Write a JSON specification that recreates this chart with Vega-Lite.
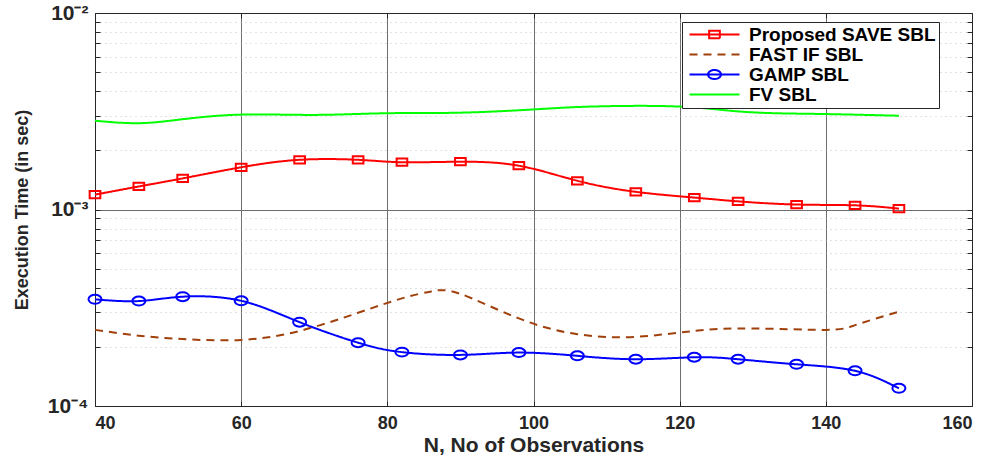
{
  "$schema": "https://vega.github.io/schema/vega-lite/v6.json",
  "width": 877,
  "height": 393,
  "autosize": {"type": "none"},
  "padding": {"left": 95, "top": 13, "right": 20, "bottom": 53},
  "background": "white",
  "config": {
    "view": {"stroke": null},
    "font": "Liberation Sans",
    "axis": {
      "labelFont": "Liberation Sans",
      "labelFontWeight": "bold",
      "labelColor": "#262626",
      "titleFont": "Liberation Sans",
      "titleFontWeight": "bold",
      "titleColor": "#262626",
      "domainColor": "#262626",
      "tickColor": "#262626",
      "domainWidth": 1,
      "tickWidth": 1
    },
    "legend": {
      "symbolSize": 100,
      "symbolStrokeWidth": 2,
      "labelFont": "Liberation Sans",
      "labelFontWeight": "bold",
      "labelFontSize": 19,
      "labelColor": "#000000",
      "labelOffset": 45,
      "padding": 3,
      "rowPadding": -0.7,
      "strokeColor": "#262626",
      "fillColor": "#ffffff",
      "symbolFillColor": "transparent",
      "labelLimit": 500
    }
  },
  "data": {
    "values": [
      {"series": "Proposed SAVE SBL", "N": 40, "t": 0.00119},
      {"series": "Proposed SAVE SBL", "N": 46, "t": 0.00131},
      {"series": "Proposed SAVE SBL", "N": 52, "t": 0.00144},
      {"series": "Proposed SAVE SBL", "N": 60, "t": 0.00164},
      {"series": "Proposed SAVE SBL", "N": 68, "t": 0.00179},
      {"series": "Proposed SAVE SBL", "N": 76, "t": 0.00179},
      {"series": "Proposed SAVE SBL", "N": 82, "t": 0.00174},
      {"series": "Proposed SAVE SBL", "N": 90, "t": 0.00175},
      {"series": "Proposed SAVE SBL", "N": 98, "t": 0.00167},
      {"series": "Proposed SAVE SBL", "N": 106, "t": 0.00140},
      {"series": "Proposed SAVE SBL", "N": 114, "t": 0.00123},
      {"series": "Proposed SAVE SBL", "N": 122, "t": 0.00115},
      {"series": "Proposed SAVE SBL", "N": 128, "t": 0.00110},
      {"series": "Proposed SAVE SBL", "N": 136, "t": 0.00106},
      {"series": "Proposed SAVE SBL", "N": 144, "t": 0.00105},
      {"series": "Proposed SAVE SBL", "N": 150, "t": 0.00101},
      {"series": "FAST IF SBL", "N": 40, "t": 0.000244},
      {"series": "FAST IF SBL", "N": 46, "t": 0.000228},
      {"series": "FAST IF SBL", "N": 52, "t": 0.000219},
      {"series": "FAST IF SBL", "N": 60, "t": 0.000217},
      {"series": "FAST IF SBL", "N": 68, "t": 0.000241},
      {"series": "FAST IF SBL", "N": 76, "t": 0.000298},
      {"series": "FAST IF SBL", "N": 82, "t": 0.000353},
      {"series": "FAST IF SBL", "N": 86, "t": 0.000383},
      {"series": "FAST IF SBL", "N": 90, "t": 0.000372},
      {"series": "FAST IF SBL", "N": 98, "t": 0.000279},
      {"series": "FAST IF SBL", "N": 106, "t": 0.000232},
      {"series": "FAST IF SBL", "N": 114, "t": 0.000225},
      {"series": "FAST IF SBL", "N": 122, "t": 0.000241},
      {"series": "FAST IF SBL", "N": 130, "t": 0.000248},
      {"series": "FAST IF SBL", "N": 140, "t": 0.000244},
      {"series": "FAST IF SBL", "N": 144, "t": 0.000258},
      {"series": "FAST IF SBL", "N": 150, "t": 0.000302},
      {"series": "GAMP SBL", "N": 40, "t": 0.000349},
      {"series": "GAMP SBL", "N": 46, "t": 0.000342},
      {"series": "GAMP SBL", "N": 52, "t": 0.000360},
      {"series": "GAMP SBL", "N": 60, "t": 0.000343},
      {"series": "GAMP SBL", "N": 68, "t": 0.000267},
      {"series": "GAMP SBL", "N": 76, "t": 0.000210},
      {"series": "GAMP SBL", "N": 82, "t": 0.000188},
      {"series": "GAMP SBL", "N": 90, "t": 0.000182},
      {"series": "GAMP SBL", "N": 98, "t": 0.000187},
      {"series": "GAMP SBL", "N": 106, "t": 0.000180},
      {"series": "GAMP SBL", "N": 114, "t": 0.000173},
      {"series": "GAMP SBL", "N": 122, "t": 0.000177},
      {"series": "GAMP SBL", "N": 128, "t": 0.000173},
      {"series": "GAMP SBL", "N": 136, "t": 0.000163},
      {"series": "GAMP SBL", "N": 144, "t": 0.000151},
      {"series": "GAMP SBL", "N": 150, "t": 0.000123},
      {"series": "FV SBL", "N": 40, "t": 0.00283},
      {"series": "FV SBL", "N": 46, "t": 0.00275},
      {"series": "FV SBL", "N": 52, "t": 0.00288},
      {"series": "FV SBL", "N": 60, "t": 0.00304},
      {"series": "FV SBL", "N": 70, "t": 0.00303},
      {"series": "FV SBL", "N": 80, "t": 0.00309},
      {"series": "FV SBL", "N": 90, "t": 0.00311},
      {"series": "FV SBL", "N": 100, "t": 0.00323},
      {"series": "FV SBL", "N": 105, "t": 0.00331},
      {"series": "FV SBL", "N": 111, "t": 0.00336},
      {"series": "FV SBL", "N": 120, "t": 0.00334},
      {"series": "FV SBL", "N": 127, "t": 0.00318},
      {"series": "FV SBL", "N": 133, "t": 0.00309},
      {"series": "FV SBL", "N": 140, "t": 0.00306},
      {"series": "FV SBL", "N": 150, "t": 0.00300}
    ]
  },
  "resolve": {"axis": {"x": "independent", "y": "independent"}},
  "layer": [
    {
      "mark": {"type": "line", "interpolate": "natural", "strokeWidth": 2},
      "encoding": {
        "x": {
          "field": "N", "type": "quantitative",
          "scale": {"domain": [40, 160], "nice": false, "zero": false},
          "axis": {
            "orient": "bottom",
            "values": [40, 60, 80, 100, 120, 140, 160],
            "format": "d",
            "labelFontSize": 18,
            "tickSize": -5,
            "labelPadding": 13,
            "grid": true,
            "gridColor": "#6e6e6e",
            "gridWidth": 1,
            "title": "N, No of Observations",
            "titleFontSize": 21,
            "titlePadding": 2
          }
        },
        "y": {
          "field": "t", "type": "quantitative",
          "scale": {"type": "log", "domain": [0.0001, 0.01], "nice": false},
          "axis": {
            "orient": "left",
            "values": [0.0001, 0.0002, 0.0003, 0.0004, 0.0005, 0.0006, 0.0007, 0.0008, 0.0009, 0.001, 0.002, 0.003, 0.004, 0.005, 0.006, 0.007, 0.008, 0.009, 0.01],
            "labelExpr": "datum.value == 0.0001 ? '10⁻⁴' : datum.value == 0.001 ? '10⁻³' : datum.value == 0.01 ? '10⁻²' : ''",
            "labelFontSize": 21,
            "tickSize": -5,
            "labelPadding": 12,
            "grid": true,
            "gridColor": {"condition": {"test": "datum.value == 0.001", "value": "#6e6e6e"}, "value": "#c4c4c4"},
            "gridDash": {"condition": {"test": "datum.value == 0.001", "value": []}, "value": [1, 4]},
            "title": "Execution Time (in sec)",
            "titleFontSize": 18,
            "titlePadding": 16
          }
        },
        "color": {
          "field": "series", "type": "nominal",
          "scale": {"domain": ["Proposed SAVE SBL", "FAST IF SBL", "GAMP SBL", "FV SBL"], "range": ["#ff0000", "#a0410d", "#0000ff", "#00ff00"]},
          "legend": {"title": null, "orient": "none", "legendX": 587, "legendY": 9, "encode": {"labels": {"update": {"text": {"signal": "datum.label + '\u00a0\u00a0\u00a0\u00a0\u00a0\u00a0'"}}}}}
        },
        "strokeDash": {
          "field": "series", "type": "nominal",
          "scale": {"domain": ["Proposed SAVE SBL", "FAST IF SBL", "GAMP SBL", "FV SBL"], "range": [[1, 0], [8, 6], [1, 0], [1, 0]]},
          "legend": {"title": null, "orient": "none", "legendX": 587, "legendY": 9}
        }
      }
    },
    {
      "transform": [{"filter": "datum.series == 'Proposed SAVE SBL'"}],
      "mark": {"type": "point", "shape": "M-1,-0.68H1V0.68H-1Z", "filled": false, "color": "#ff0000", "strokeWidth": 2, "size": 114, "opacity": 1},
      "encoding": {
        "x": {"field": "N", "type": "quantitative", "axis": null},
        "y": {"field": "t", "type": "quantitative", "axis": null}
      }
    },
    {
      "transform": [{"filter": "datum.series == 'GAMP SBL'"}],
      "mark": {"type": "point", "shape": "M-1,0A1,0.69,0,1,0,1,0A1,0.69,0,1,0,-1,0Z", "filled": false, "color": "#0000ff", "strokeWidth": 2, "size": 169, "opacity": 1},
      "encoding": {
        "x": {"field": "N", "type": "quantitative", "axis": null},
        "y": {"field": "t", "type": "quantitative", "axis": null}
      }
    },
    {
      "transform": [{"filter": "datum.N < 0"}],
      "mark": {"type": "point", "filled": false, "strokeWidth": 2},
      "encoding": {
        "x": {
          "field": "N", "type": "quantitative",
          "axis": {"orient": "top", "values": [40, 60, 80, 100, 120, 140, 160], "labels": false, "tickSize": -5, "grid": false, "title": null}
        },
        "y": {
          "field": "t", "type": "quantitative",
          "axis": {"orient": "right", "values": [0.0001, 0.0002, 0.0003, 0.0004, 0.0005, 0.0006, 0.0007, 0.0008, 0.0009, 0.001, 0.002, 0.003, 0.004, 0.005, 0.006, 0.007, 0.008, 0.009, 0.01], "labels": false, "tickSize": -5, "grid": false, "title": null}
        },
        "color": {
          "field": "series", "type": "nominal",
          "legend": {"title": null, "orient": "none", "legendX": 587, "legendY": 9}
        },
        "shape": {
          "field": "series", "type": "nominal",
          "scale": {"domain": ["Proposed SAVE SBL", "FAST IF SBL", "GAMP SBL", "FV SBL"], "range": ["M-1,0H9M2.93,-0.73H5.07V0.73H2.93Z", "M-1,0H9", "M-1,0H9M2.7,0A1.3,0.9,0,1,0,5.3,0A1.3,0.9,0,1,0,2.7,0Z", "M-1,0H9"]},
          "legend": {"title": null, "orient": "none", "legendX": 587, "legendY": 9}
        }
      }
    }
  ]
}
